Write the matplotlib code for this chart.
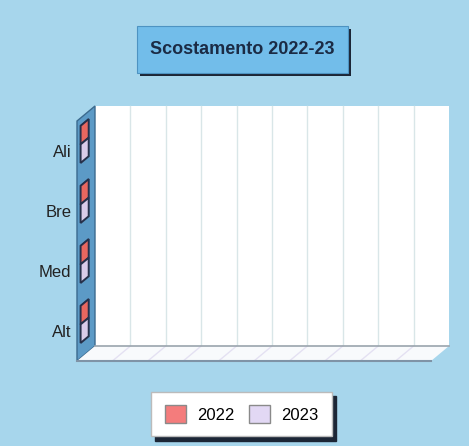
import matplotlib.pyplot as plt
from matplotlib.patches import Rectangle, Polygon, Patch

plt.rcParams["font.family"] = ["Liberation Sans", "DejaVu Sans"]

# data (bottom to top on the chart)
categories = ["Alt", "Med", "Bre", "Ali"]
series = ["2022", "2023"]
values_2022 = [0, 0, 0, 0]
values_2023 = [0, 0, 0, 0]
colors = ["#f47c7c", "#e2d8f4"]
bar_colors = ["#e8675f", "#d9cbe9"]
title = "Scostamento 2022-23"

W, H = 469, 446
fig = plt.figure(figsize=(W / 100, H / 100), dpi=100)
fig.patch.set_facecolor("#a7d6ec")


def fx(x):
    return x / W


def fy(y):
    return 1 - y / H


# front plane of the 3d box
ax = fig.add_axes([fx(77), fy(361), fx(431) - fx(77), fy(121) - fy(361)])
ax.set_xlim(0, 10)
ax.set_ylim(-0.5, 3.5)
ax.patch.set_visible(False)
for s in ax.spines.values():
    s.set_visible(False)
ax.set_xticks([])
ax.set_yticks(range(len(categories)), categories)
ax.tick_params(axis="y", length=0, pad=4, labelsize=12, labelcolor="#222222")

# depth of the box in data units
DX = 18 / 354 * 10
DY = 15 / 240 * 4
y0, y1 = -0.5, 3.5

# back wall
ax.add_patch(Rectangle((DX, y0 + DY), 10, 4, facecolor="white", edgecolor="none",
                       zorder=0, clip_on=False))
for k in range(1, 10):
    ax.plot([k + DX, k + DX], [y0 + DY, y1 + DY], color="#d9e6e8", lw=1,
            zorder=1, clip_on=False)

# left wall
ax.add_patch(Polygon([(0, y0), (DX, y0 + DY), (DX, y1 + DY), (0, y1)],
                     facecolor="#5c9ac6", edgecolor="#3b6a8e", lw=1,
                     zorder=2, clip_on=False))

# floor
ax.add_patch(Polygon([(0, y0), (10, y0), (10 + DX, y0 + DY), (DX, y0 + DY)],
                     facecolor="#f8fafc", edgecolor="none", zorder=2, clip_on=False))
for k in range(1, 10):
    ax.plot([k, k + DX], [y0, y0 + DY], color="#e4e1f2", lw=1, zorder=3, clip_on=False)
ax.plot([DX, 10 + DX], [y0 + DY, y0 + DY], color="#9aa4ad", lw=1.2, zorder=3, clip_on=False)
ax.plot([0, 10], [y0, y0], color="#7f93a6", lw=1.5, zorder=3, clip_on=False)

# 3d bars
h = 0.31
lift = 0.06
d0, d1 = 0.2, 0.65
for j, vals in enumerate([values_2022, values_2023]):
    for i, v in enumerate(vals):
        yb = i + lift + (0 if j == 0 else -h)
        yt = yb + h
        # front face
        ax.barh(yb + h / 2 + d0 * DY, v, height=h, left=d0 * DX, color=bar_colors[j],
                edgecolor="#2a3550", lw=0 if v == 0 else 1, zorder=5, clip_on=False)
        # top face
        ax.add_patch(Polygon([(d0 * DX, yt + d0 * DY), (v + d0 * DX, yt + d0 * DY),
                              (v + d1 * DX, yt + d1 * DY), (d1 * DX, yt + d1 * DY)],
                             facecolor=bar_colors[j], edgecolor="#2a3550", lw=1,
                             zorder=5, clip_on=False))
        # end face
        ax.add_patch(Polygon([(v + d0 * DX, yb + d0 * DY), (v + d1 * DX, yb + d1 * DY),
                              (v + d1 * DX, yt + d1 * DY), (v + d0 * DX, yt + d0 * DY)],
                             facecolor=bar_colors[j], edgecolor="#26304a", lw=1.4,
                             zorder=6, clip_on=False))

# title box with shadow
fig.patches.append(Rectangle((fx(140), fy(76)), fx(348) - fx(137), fy(26) - fy(73),
                             transform=fig.transFigure, facecolor="#1c2636",
                             edgecolor="none", zorder=1))
fig.patches.append(Rectangle((fx(137), fy(73)), fx(348) - fx(137), fy(26) - fy(73),
                             transform=fig.transFigure, facecolor="#72bdea",
                             edgecolor="#4d93c2", lw=0.8, zorder=2))
fig.text(fx(242), fy(50), title, ha="center", va="center", fontsize=13,
         fontweight="bold", color="#1b2b45", zorder=3)

# legend
handles = [Patch(facecolor=c, edgecolor="#8a8a8a", label=s) for c, s in zip(colors, series)]
fig.legend(handles=handles, loc="center", bbox_to_anchor=(fx(241.5), fy(414)), ncol=2,
           frameon=True, fancybox=False, framealpha=1, facecolor="white",
           edgecolor="#bbbbbb", shadow={"facecolor": "#1c2636", "edgecolor": "#1c2636",
                                        "alpha": 1, "ox": 3, "oy": -3},
           handlelength=1.3, handleheight=1.3, columnspacing=0.85, handletextpad=0.65,
           borderpad=0.8, fontsize=12)

fig.savefig("out.png", dpi=100, facecolor=fig.get_facecolor())
